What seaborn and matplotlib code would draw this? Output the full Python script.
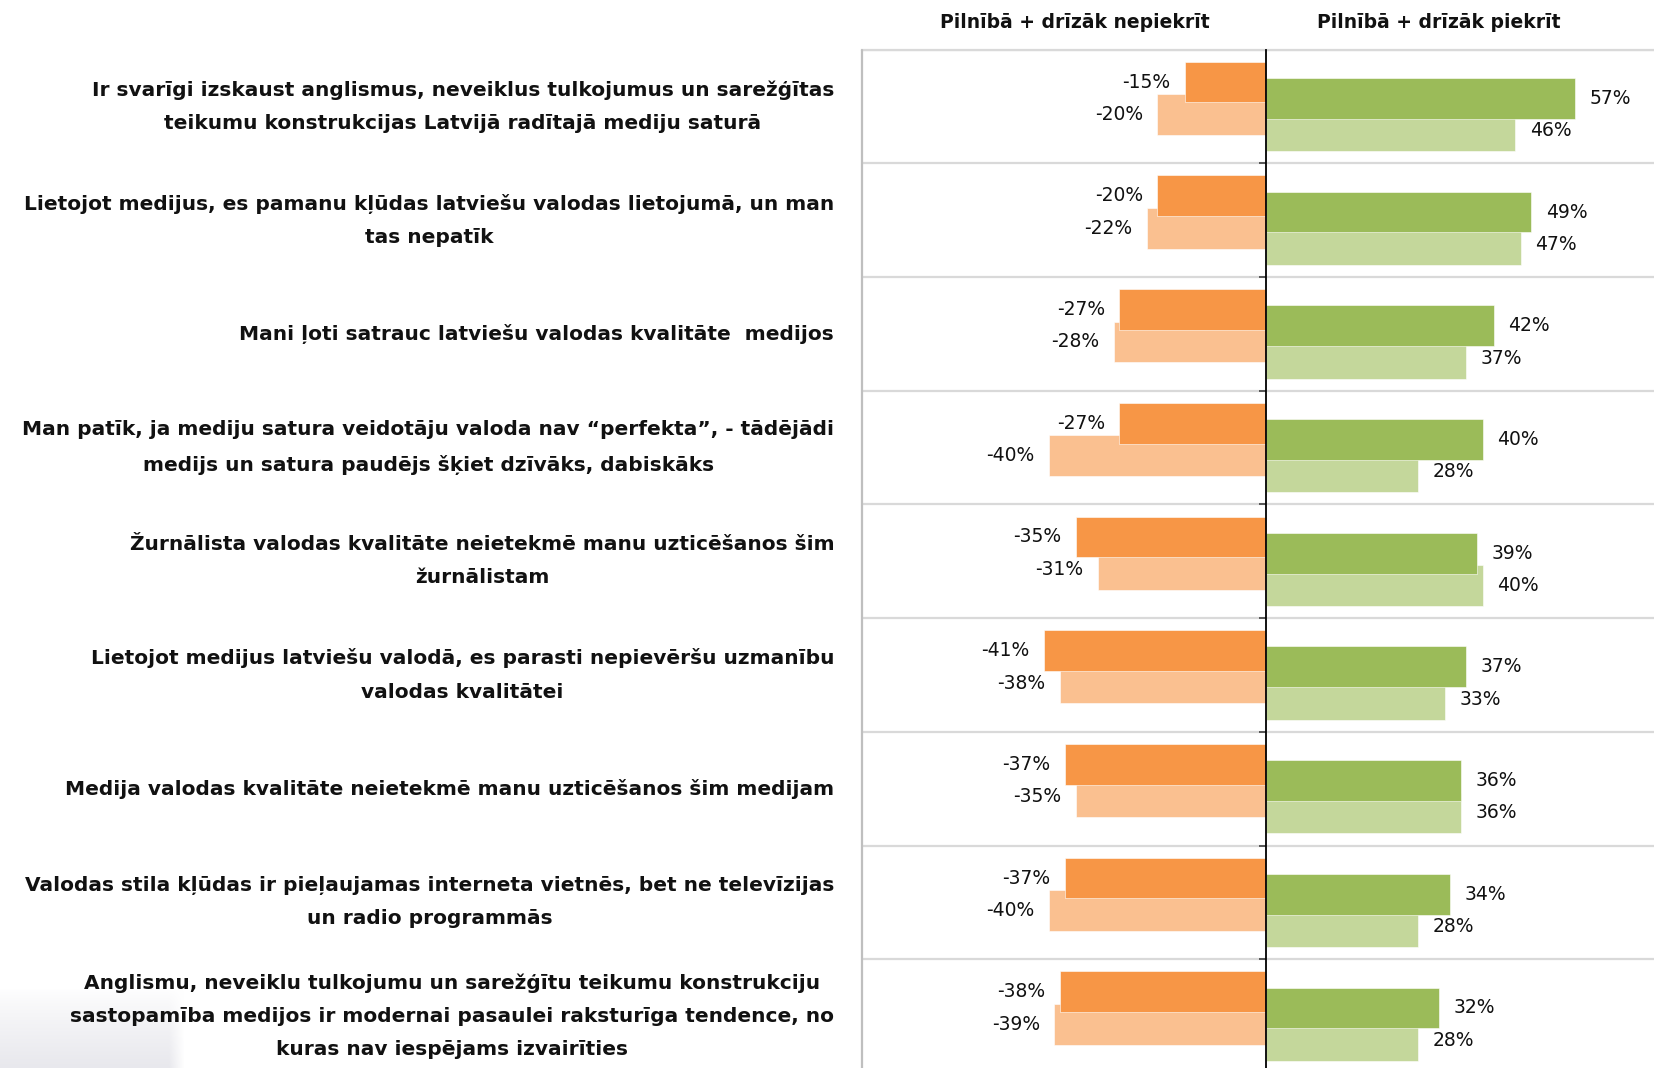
import numpy as np
import pandas as pd
import matplotlib
matplotlib.use("Agg")
import matplotlib.pyplot as plt
import seaborn as sns
from matplotlib.ticker import FixedLocator

# ---- data ---------------------------------------------------------------
statements = [
    "Ir svarīgi izskaust anglismus, neveiklus tulkojumus un sarežģītas\nteikumu konstrukcijas Latvijā radītajā mediju saturā",
    "Lietojot medijus, es pamanu kļūdas latviešu valodas lietojumā, un man\ntas nepatīk",
    "Mani ļoti satrauc latviešu valodas kvalitāte  medijos",
    "Man patīk, ja mediju satura veidotāju valoda nav “perfekta”, - tādējādi\nmedijs un satura paudējs šķiet dzīvāks, dabiskāks",
    "Žurnālista valodas kvalitāte neietekmē manu uzticēšanos šim\nžurnālistam",
    "Lietojot medijus latviešu valodā, es parasti nepievēršu uzmanību\nvalodas kvalitātei",
    "Medija valodas kvalitāte neietekmē manu uzticēšanos šim medijam",
    "Valodas stila kļūdas ir pieļaujamas interneta vietnēs, bet ne televīzijas\nun radio programmās",
    "Anglismu, neveiklu tulkojumu un sarežģītu teikumu konstrukciju\nsastopamība medijos ir modernai pasaulei raksturīga tendence, no\nkuras nav iespējams izvairīties",
]
disagree_1 = [-15, -20, -27, -27, -35, -41, -37, -37, -38]
disagree_2 = [-20, -22, -28, -40, -31, -38, -35, -40, -39]
agree_1 = [57, 49, 42, 40, 39, 37, 36, 34, 32]
agree_2 = [46, 47, 37, 28, 40, 33, 36, 28, 28]

header_left = "Pilnībā + drīzāk nepiekrīt"
header_right = "Pilnībā + drīzāk piekrīt"

series_order = ["disagree_1", "agree_1", "disagree_2", "agree_2"]
series_values = {
    "disagree_1": disagree_1,
    "agree_1": agree_1,
    "disagree_2": disagree_2,
    "agree_2": agree_2,
}
palette = {
    "disagree_1": "#F79646",
    "agree_1": "#9BBB59",
    "disagree_2": "#FAC090",
    "agree_2": "#C4D79B",
}

df = pd.DataFrame(
    [
        {"statement": s, "series": name, "value": v}
        for name in series_order
        for s, v in zip(statements, series_values[name])
    ]
)

# ---- style --------------------------------------------------------------
sns.set_style("white")
plt.rcParams["font.family"] = ["DejaVu Sans"]
TEXT = "#111111"

W, H = 1654, 1068
fig = plt.figure(figsize=(W / 100, H / 100), dpi=100)
fig.patch.set_facecolor("white")

row_px = 113.7
ax_left, ax_top = 862, 49.6
ax_h = row_px * len(statements)
ax = fig.add_axes([ax_left / W, 1 - (ax_top + ax_h) / H, 1 - ax_left / W, ax_h / H])
ax.patch.set_alpha(0)

sns.barplot(
    data=df, x="value", y="statement", hue="series", hue_order=series_order,
    palette=palette, orient="h", width=0.57, dodge=True, errorbar=None,
    legend=False, saturation=1, edgecolor="white", linewidth=0.4, ax=ax,
)

# overlapping bars: widen each bar around its own centre, darker ones in front
bar_h = 0.358
for name, cont in zip(series_order, ax.containers):
    z = 2.2 if name.endswith("_1") else 2.0
    for p in cont.patches:
        c = p.get_y() + p.get_height() / 2
        p.set_height(bar_h)
        p.set_y(c - bar_h / 2)
        p.set_zorder(z)
    ax.bar_label(
        cont, labels=[f"{v:.0f}%" for v in cont.datavalues], padding=10.5,
        fontsize=13.5, color=TEXT,
    )

ax.set_xlim(-74.5, 71.6)
ax.set_ylim(len(statements) - 0.5, -0.5)

# central zero axis with ticks, gridlines between statements
ax.spines["left"].set_position(("data", 0))
ax.spines["left"].set_color("black")
ax.spines["left"].set_linewidth(1.3)
ax.spines["left"].set_zorder(3)
ax.spines["right"].set_visible(False)
ax.spines["bottom"].set_visible(False)
ax.spines["top"].set_color("#D9D9D9")
ax.spines["top"].set_linewidth(1.6)

ax.yaxis.set_minor_locator(FixedLocator(np.arange(-0.5, len(statements), 1.0)))
ax.tick_params(axis="y", which="both", direction="out", length=5.4, width=1.2,
               color="#404040", left=True, labelleft=False)
ax.grid(False)
ax.grid(axis="y", which="minor", color="#D9D9D9", linewidth=1.6)
ax.set_axisbelow(True)
ax.set_xticks([])
ax.set_xlabel("")
ax.set_ylabel("")

# plot-area left border
ax.plot([0, 0], [0, 1], transform=ax.transAxes, color="#BFBFBF", lw=1.6,
        clip_on=False, zorder=4)

# statement labels to the left of the plot area
for y, s in zip(ax.get_yticks(), statements):
    ax.annotate(
        s, xy=(0, y), xycoords=("axes fraction", "data"), xytext=(-20, 0),
        textcoords="offset points", ha="right", va="center",
        multialignment="center", fontsize=14.5, fontweight="bold",
        color=TEXT, linespacing=1.95, annotation_clip=False,
    )

# column headers
fig.text(1075 / W, 1 - 22 / H, header_left, ha="center", va="center",
         fontsize=13.5, fontweight="bold", color=TEXT)
fig.text(1439 / W, 1 - 22 / H, header_right, ha="center", va="center",
         fontsize=13.5, fontweight="bold", color=TEXT)

# faint shading in the lower-left corner
gax = fig.add_axes([0, 0, 185 / W, 80 / H])
gax.set_zorder(-1)
ramp_v = np.linspace(0, 1, 80)[:, None] ** 0.8
ramp_h = np.clip((1 - np.linspace(0, 1, 185)[None, :]) * 12, 0, 1)
alpha = ramp_v * ramp_h
img = np.zeros((80, 185, 4))
img[..., 0] = 0.91
img[..., 1] = 0.91
img[..., 2] = 0.93
img[..., 3] = alpha
gax.imshow(img, aspect="auto", interpolation="bilinear")
gax.axis("off")

fig.savefig("out.png", dpi=100)
